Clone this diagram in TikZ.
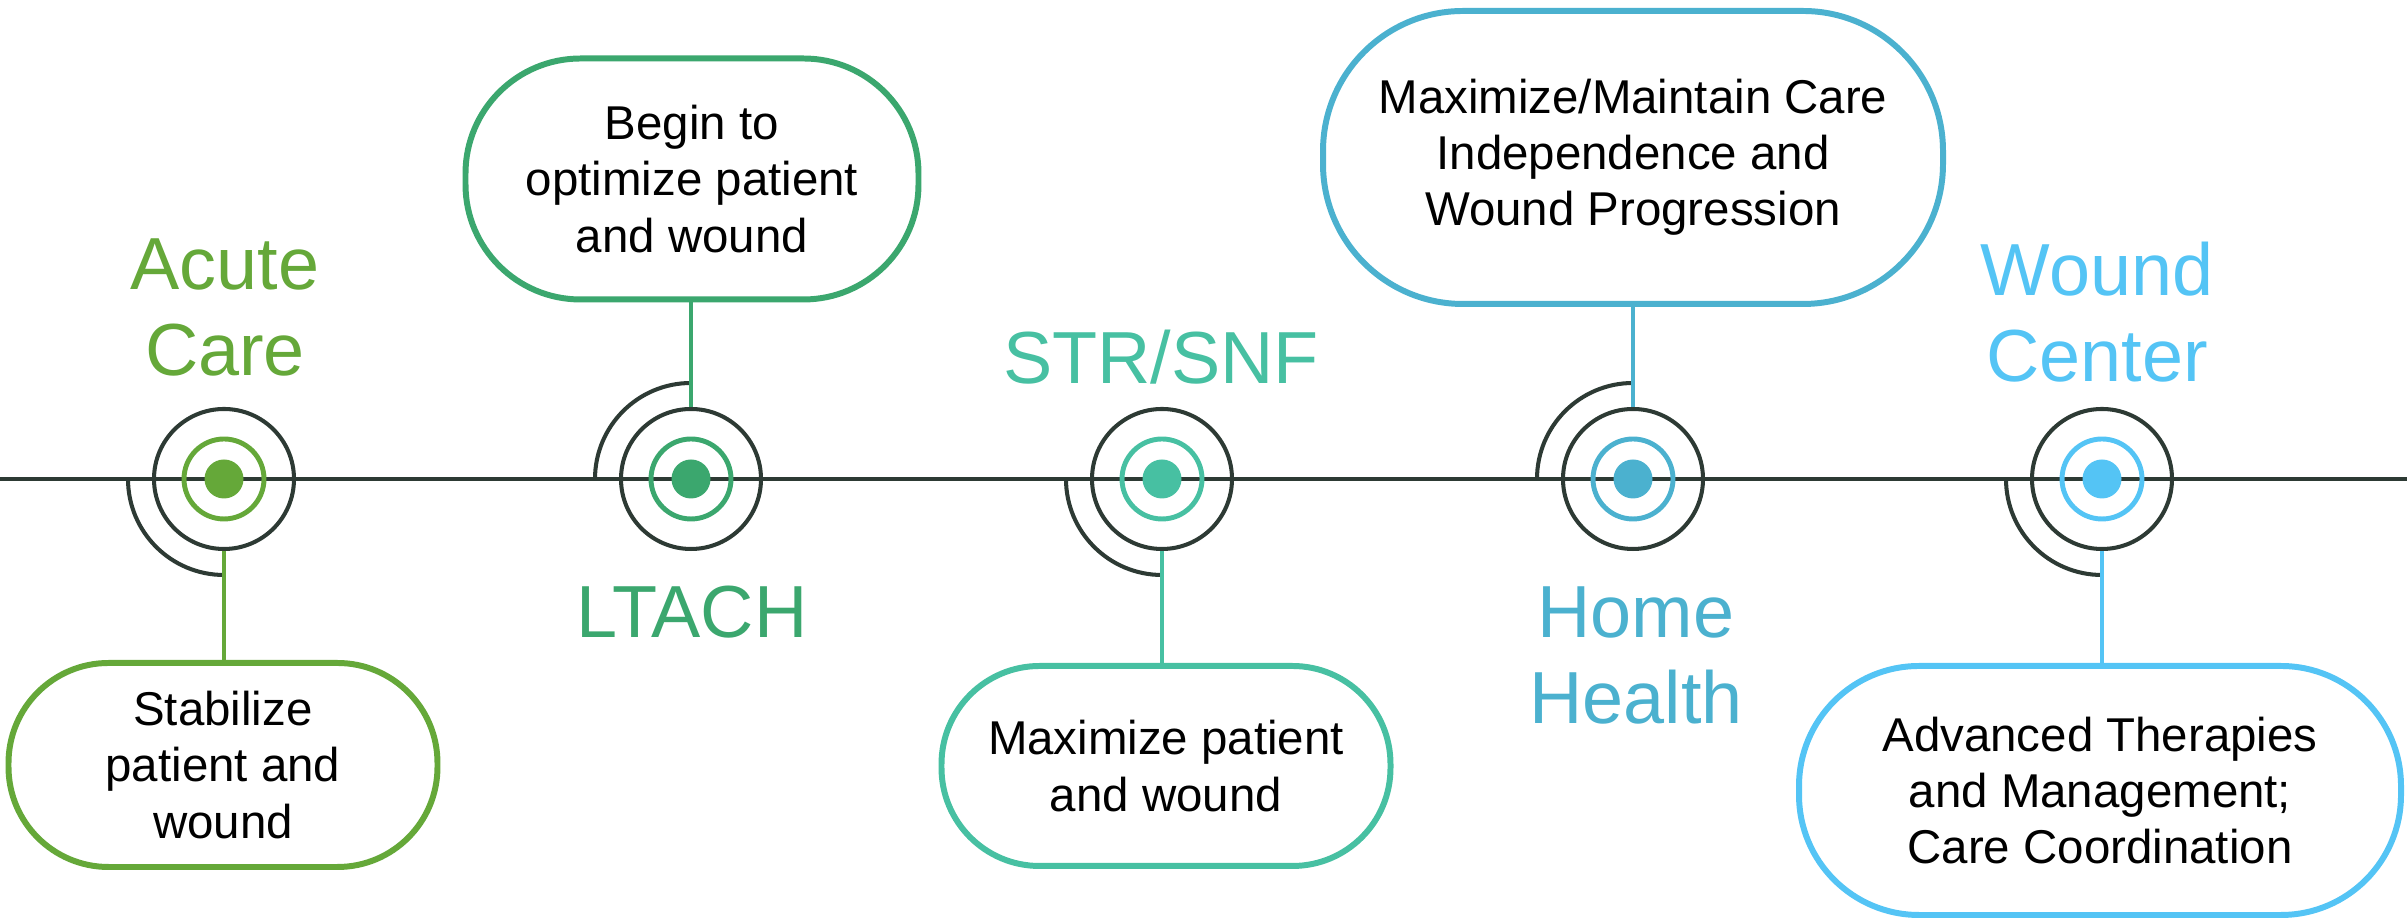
\documentclass[tikz,border=0pt]{standalone}
\usepackage{fontspec}
\setmainfont{Liberation Sans}
\usetikzlibrary{positioning}

\definecolor{acutegreen}{RGB}{101,168,57}
\definecolor{ltachgreen}{RGB}{59,167,110}
\definecolor{snfteal}{RGB}{71,192,162}
\definecolor{homeblue}{RGB}{75,177,207}
\definecolor{centerblue}{RGB}{84,196,245}
\definecolor{darkline}{RGB}{45,58,52}

\tikzset{
  station/.style={circle, draw=darkline, line width=1.15pt, minimum size=1.4cm, inner sep=0pt},
  ring/.style={circle, draw=#1, line width=1.4pt, minimum size=0.8cm, inner sep=0pt},
  dot/.style={circle, fill=#1, minimum size=0.39cm, inner sep=0pt},
  goal/.style={draw=#1, fill=white, line width=1.7pt, align=center, inner sep=0pt,
    font=\fontsize{13.5}{16}\selectfont},
  place/.style={text=#1, align=center, inner sep=0pt, anchor=north,
    font=\fontsize{21}{24.5}\selectfont},
  link/.style={draw=#1, line width=1pt},
  quarter/.style={draw=darkline, line width=1.15pt},
}

\begin{document}
\begin{tikzpicture}
  \useasboundingbox (0,-4.43) rectangle (24.07,4.79);

  % timeline
  \coordinate (start) at (0,0);
  \coordinate (end) at (24.07,0);
  \draw[darkline, line width=1.1pt] (start) -- (end);

  % stations
  \node[station] (acute) at (2.24,0) {};
  \node[station] (ltach) at (6.91,0) {};
  \node[station] (snf) at (11.62,0) {};
  \node[station] (home) at (16.33,0) {};
  \node[station] (wcenter) at (21.02,0) {};

  \node[ring=acutegreen] at (acute) {};
  \node[ring=ltachgreen] at (ltach) {};
  \node[ring=snfteal] at (snf) {};
  \node[ring=homeblue] at (home) {};
  \node[ring=centerblue] at (wcenter) {};

  \node[dot=acutegreen] at (acute) {};
  \node[dot=ltachgreen] at (ltach) {};
  \node[dot=snfteal] at (snf) {};
  \node[dot=homeblue] at (home) {};
  \node[dot=centerblue] at (wcenter) {};

  % quarter arcs
  \draw[quarter] ([xshift=-0.96cm]acute.center) arc[start angle=180, end angle=270, radius=0.96];
  \draw[quarter] ([xshift=-0.96cm]ltach.center) arc[start angle=180, end angle=90, radius=0.96];
  \draw[quarter] ([xshift=-0.96cm]snf.center) arc[start angle=180, end angle=270, radius=0.96];
  \draw[quarter] ([xshift=-0.96cm]home.center) arc[start angle=180, end angle=90, radius=0.96];
  \draw[quarter] ([xshift=-0.96cm]wcenter.center) arc[start angle=180, end angle=270, radius=0.96];

  % station names
  \node[place=acutegreen] (acute-lbl) at (2.25,2.41) {Acute\\Care};
  \node[place=ltachgreen] (ltach-lbl) at (6.92,-1.06) {LTACH};
  \node[place=snfteal] (snf-lbl) at (11.61,1.50) {STR/SNF};
  \node[place=homeblue] (home-lbl) at (16.36,-1.07) {Home\\Health};
  \node[place=centerblue] (wcenter-lbl) at (20.97,2.38) {Wound\\Center};

  % goals
  \node[goal=acutegreen, minimum width=4.29cm, minimum height=2.04cm, rounded corners=1cm]
    (stabilize) at (2.23,-2.86) {Stabilize\\patient and\\wound};
  \node[goal=ltachgreen, minimum width=4.53cm, minimum height=2.41cm, rounded corners=1.15cm]
    (optimize) at (6.92,3.0) {Begin to\\optimize patient\\and wound};
  \node[goal=snfteal, minimum width=4.49cm, minimum height=2.0cm, rounded corners=0.98cm]
    (maximize) at (11.66,-2.87) {Maximize patient\\and wound};
  \node[goal=homeblue, minimum width=6.2cm, minimum height=2.93cm, rounded corners=1.4cm]
    (maintain) at (16.33,3.215) {Maximize/Maintain Care\\Independence and\\Wound Progression};
  \node[goal=centerblue, minimum width=6.02cm, minimum height=2.49cm, rounded corners=1.2cm]
    (advanced) at (21.0,-3.115) {Advanced Therapies\\and Management;\\Care Coordination};

  % links
  \draw[link=acutegreen] (acute.south) -- (acute.south |- stabilize.north);
  \draw[link=ltachgreen] (ltach.north) -- (ltach.north |- optimize.south);
  \draw[link=snfteal] (snf.south) -- (snf.south |- maximize.north);
  \draw[link=homeblue] (home.north) -- (home.north |- maintain.south);
  \draw[link=centerblue] (wcenter.south) -- (wcenter.south |- advanced.north);
\end{tikzpicture}
\end{document}
